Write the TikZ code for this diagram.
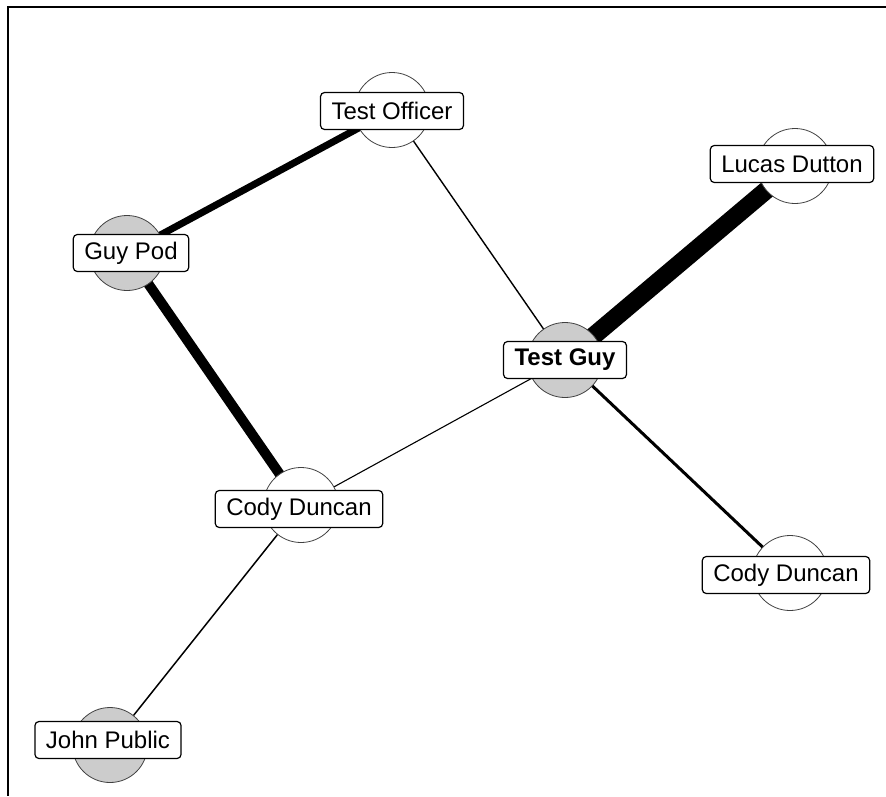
\documentclass[tikz,border=0pt]{standalone}
\usepackage{fontspec}
\setmainfont{Liberation Sans}
\begin{document}
\begin{tikzpicture}[x=1pt,y=-1pt,
  halo/.style={circle,draw=black!75,line width=0.8pt,fill=white,minimum size=75pt,inner sep=0pt},
  halogray/.style={halo,fill=black!20},
  tag/.style={draw=black,line width=1.2pt,fill=white,rounded corners=4pt,
    minimum height=37pt,inner xsep=11pt,inner ysep=0pt,
    font=\fontsize{24}{26}\selectfont,text=black},
  link/.style={draw=black,line width=#1},
]
\useasboundingbox (0,0) rectangle (886,796);
% frame edges
\draw[line width=2pt] (886,7) -- (8,7) -- (8,796);

% centres of the circles behind the labels
\coordinate (cOff) at (392,110);
\coordinate (cPod) at (127,253);
\coordinate (cGuy) at (565,360);
\coordinate (cLuc) at (795,166);
\coordinate (cCdL) at (301,505);
\coordinate (cCdR) at (790,573);
\coordinate (cJoh) at (110,745);

% links between people, line width by tie strength
\draw[link=7pt]   (cOff) -- (cPod);
\draw[link=10pt]  (cPod) -- (cCdL);
\draw[link=1.4pt] (cOff) -- (cGuy);
\draw[link=18pt]  (cGuy) -- (cLuc);
\draw[link=1.1pt] (cGuy) -- (cCdL);
\draw[link=3pt]   (cGuy) -- (cCdR);
\draw[link=1.5pt] (cCdL) -- (cJoh);

% halos
\node[halo]     (hOff) at (cOff) {};
\node[halogray] (hPod) at (cPod) {};
\node[halogray] (hGuy) at (cGuy) {};
\node[halo]     (hLuc) at (cLuc) {};
\node[halo]     (hCdL) at (cCdL) {};
\node[halo]     (hCdR) at (cCdR) {};
\node[halogray] (hJoh) at (cJoh) {};

% name labels
\node[tag] (off) at (392,111) {Test Officer};
\node[tag] (pod) at (131,253) {Guy Pod};
\node[tag,font=\fontsize{24}{26}\selectfont\bfseries] (guy) at (565,360) {Test Guy};
\node[tag] (luc) at (792,164) {Lucas Dutton};
\node[tag] (cdl) at (299,509) {Cody Duncan};
\node[tag] (cdr) at (786,575) {Cody Duncan};
\node[tag] (joh) at (108,740) {John Public};
\end{tikzpicture}
\end{document}
